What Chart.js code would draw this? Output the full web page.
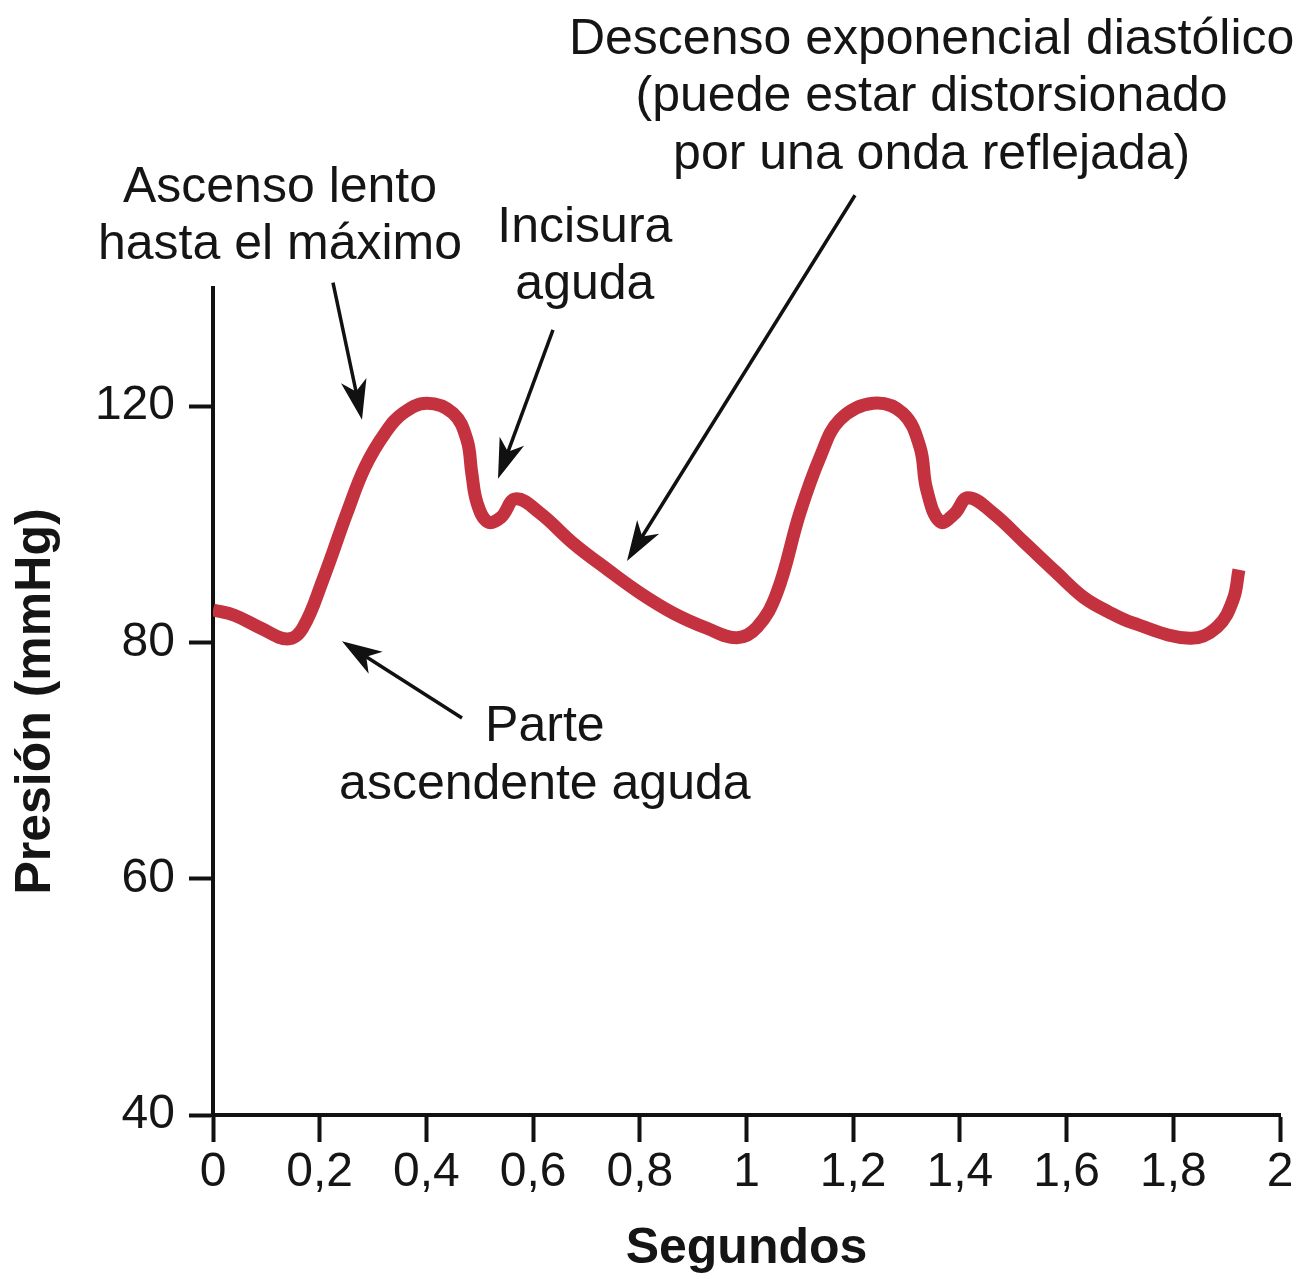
<!DOCTYPE html>
<html>
<head>
<meta charset="utf-8">
<script src="https://cdn.jsdelivr.net/npm/chart.js@4/dist/chart.umd.min.js"></script>
<style>
  html, body { margin: 0; padding: 0; background: #ffffff; }
  canvas { display: block; }
</style>
</head>
<body>
<canvas id="chart" width="1302" height="1279"></canvas>
<script>
// ---------------- DATA ----------------
const timeS = [0.000, 0.040, 0.090, 0.140, 0.168, 0.206, 0.251, 0.285, 0.323, 0.356, 0.401, 0.450, 0.476, 0.485, 0.495, 0.515, 0.540, 0.567, 0.613, 0.675, 0.740, 0.800, 0.862, 0.926, 0.982, 1.020, 1.057, 1.100, 1.138, 1.175, 1.237, 1.293, 1.325, 1.338, 1.363, 1.390, 1.415, 1.462, 1.520, 1.580, 1.631, 1.678, 1.724, 1.831, 1.882, 1.912, 1.923];
const pressure = [85.5, 84.6, 82.4, 80.6, 82.4, 90.6, 101.9, 109.7, 115.5, 118.8, 120.5, 118.8, 114.3, 108.7, 103.6, 100.4, 101.2, 104.3, 101.9, 96.8, 92.3, 88.4, 85.0, 82.4, 80.8, 82.6, 88.4, 101.9, 111.4, 117.7, 120.5, 118.8, 113.1, 105.8, 100.4, 101.8, 104.5, 101.9, 97.0, 91.9, 87.7, 85.2, 83.3, 80.7, 82.6, 87.2, 92.3];

const xTicks = [0, 0.2, 0.4, 0.6, 0.8, 1, 1.2, 1.4, 1.6, 1.8, 2];
const yTicks = [40, 60, 80, 120];
const yMin = 40, yMax = 140;
const yBreak = 80;            // above this value the axis is compressed 2:1

const xTitle = 'Segundos';
const yTitle = 'Presión (mmHg)';

// Annotation texts and their anchors (data units: seconds, mmHg)
const labelTexts = [
  ['Descenso exponencial diastólico', '(puede estar distorsionado', 'por una onda reflejada)'],
  ['Ascenso lento', 'hasta el máximo'],
  ['Incisura', 'aguda'],
  ['Parte', 'ascendente aguda']
];
const labelAnchors = [[1.347, 182], [0.1256, 156.9], [0.697, 150.2], [0.622, 72.8]];
const arrowFrom = [[0.2249, 140.9], [0.6373, 132.9], [1.2034, 155.7], [0.4667, 73.6]];
const arrowTo   = [[0.2793, 117.7], [0.5342, 107.7], [0.776, 93.8], [0.2418, 80.2]];

// ---------------- BROKEN Y SCALE ----------------
const compress = v => v <= yBreak ? v : yBreak + (v - yBreak) / 2;
const expand = u => u <= yBreak ? u : yBreak + (u - yBreak) * 2;

class BrokenLinearScale extends Chart.LinearScale {
  getPixelForValue(value) {
    if (value === null || value === undefined || isNaN(value)) return NaN;
    const a = compress(this.min), b = compress(this.max);
    return this.getPixelForDecimal((compress(value) - a) / (b - a));
  }
  getValueForPixel(pixel) {
    const a = compress(this.min), b = compress(this.max);
    return expand(a + this.getDecimalForPixel(pixel) * (b - a));
  }
}
BrokenLinearScale.id = 'brokenLinear';
BrokenLinearScale.defaults = Chart.LinearScale.defaults;
Chart.register(BrokenLinearScale);

// ---------------- ANNOTATIONS ----------------
const FONT = '"Liberation Sans", Arial, Helvetica, sans-serif';
const annotationPlugin = {
  id: 'annotations',
  afterDatasetsDraw(chart) {
    const { ctx, scales: { x, y } } = chart;
    ctx.save();
    ctx.fillStyle = '#151515';
    ctx.font = '50px ' + FONT;
    ctx.textAlign = 'center';
    ctx.textBaseline = 'middle';
    labelTexts.forEach((lines, i) => {
      const px = x.getPixelForValue(labelAnchors[i][0]);
      const py = y.getPixelForValue(labelAnchors[i][1]);
      lines.forEach((t, j) => ctx.fillText(t, px, py + j * 57.5));
    });

    ctx.strokeStyle = '#111';
    ctx.fillStyle = '#111';
    ctx.lineWidth = 3.5;
    ctx.lineCap = 'butt';
    const L = 40, W = 13;
    arrowFrom.forEach((f, i) => {
      const x0 = x.getPixelForValue(f[0]), y0 = y.getPixelForValue(f[1]);
      const x1 = x.getPixelForValue(arrowTo[i][0]), y1 = y.getPixelForValue(arrowTo[i][1]);
      const ang = Math.atan2(y1 - y0, x1 - x0);
      const cos = Math.cos(ang), sin = Math.sin(ang);
      ctx.beginPath();
      ctx.moveTo(x0, y0);
      ctx.lineTo(x1 - cos * L * 0.6, y1 - sin * L * 0.6);
      ctx.stroke();
      const bx = x1 - cos * L, by = y1 - sin * L;
      const nx = x1 - cos * L * 0.72, ny = y1 - sin * L * 0.72;
      ctx.beginPath();
      ctx.moveTo(x1, y1);
      ctx.lineTo(bx - sin * W, by + cos * W);
      ctx.lineTo(nx, ny);
      ctx.lineTo(bx + sin * W, by - cos * W);
      ctx.closePath();
      ctx.fill();
    });
    ctx.restore();
  }
};

// ---------------- CHART ----------------
const fmtComma = v => (Math.round(v * 10) / 10).toString().replace('.', ',');

new Chart(document.getElementById('chart'), {
  type: 'line',
  data: {
    datasets: [{
      data: timeS.map((t, i) => ({ x: t, y: pressure[i] })),
      borderColor: '#c4323f',
      borderWidth: 13,
      pointRadius: 0,
      fill: false,
      tension: 0.4,
      borderCapStyle: 'butt',
      borderJoinStyle: 'round'
    }]
  },
  options: {
    responsive: false,
    animation: false,
    devicePixelRatio: 1,
    layout: { padding: { left: 0, right: 22, top: 288, bottom: 0 } },
    plugins: { legend: { display: false }, tooltip: { enabled: false } },
    scales: {
      x: {
        type: 'linear',
        min: 0, max: 2,
        afterBuildTicks: s => { s.ticks = xTicks.map(v => ({ value: v })); },
        afterFit: s => { s.height = 164; },
        grid: { display: true, drawOnChartArea: false, drawTicks: true, tickLength: 27, tickWidth: 4, tickColor: '#111' },
        border: { display: true, color: '#111', width: 4 },
        ticks: {
          callback: v => fmtComma(v),
          autoSkip: false, maxRotation: 0,
          color: '#151515', padding: 2,
          font: { family: FONT, size: 48 }
        },
        title: {
          display: true, text: xTitle, color: '#151515',
          font: { family: FONT, size: 50, weight: 'bold' },
          padding: { top: 0, bottom: 0 }
        }
      },
      y: {
        type: 'brokenLinear',
        min: yMin, max: yMax,
        afterBuildTicks: s => { s.ticks = yTicks.map(v => ({ value: v })); },
        afterFit: s => { s.width = 213; },
        grid: { display: true, drawOnChartArea: false, drawTicks: true, tickLength: 24, tickWidth: 4, tickColor: '#111' },
        border: { display: true, color: '#111', width: 4 },
        ticks: {
          callback: v => String(v),
          color: '#151515', padding: 14,
          font: { family: FONT, size: 48 }
        },
        title: {
          display: true, text: yTitle, color: '#151515',
          font: { family: FONT, size: 50, weight: 'bold' },
          padding: { top: 6, bottom: 0 }
        }
      }
    }
  },
  plugins: [annotationPlugin]
});
</script>
</body>
</html>
